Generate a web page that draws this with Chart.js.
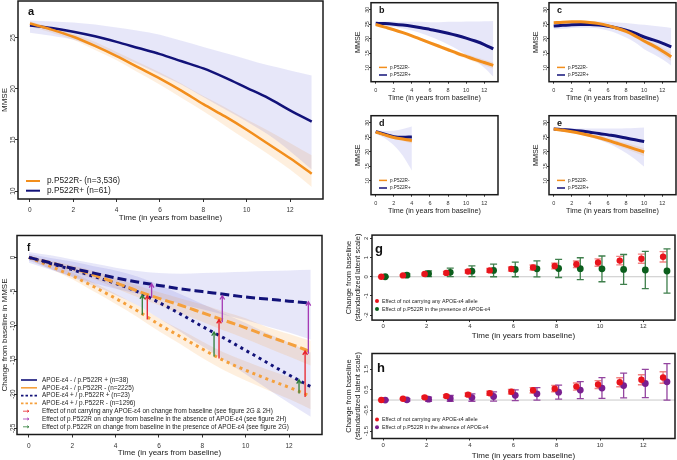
<!DOCTYPE html>
<html>
<head>
<meta charset="utf-8">
<script src="https://cdn.jsdelivr.net/npm/chart.js@4/dist/chart.umd.min.js"></script>
<style>
  html, body { margin: 0; padding: 0; background: #fff; width: 677px; height: 460px; overflow: hidden; position: relative; }
  canvas { position: absolute; }
</style>
</head>
<body>
<script>
// ---- data ----
const years = [0, 1, 2, 3, 4, 5, 6, 7, 8, 9, 10, 11, 12, 13];
const xTicks = [0, 2, 4, 6, 8, 10, 12];
const mmseTicks = [10, 15, 20, 25];
const mmseTicksSmall = [10, 15, 20, 25, 30];
const fTicks = [-25, -20, -15, -10, -5, 0];
const gTicks = [-2, -1, 0, 1, 2];
const hTicks = [-1.5, -0.5, 0.5, 1.5];

const groupNames = ['p.P522R-', 'p.P522R+'];
const aNames = ['p.P522R- (n=3,536)', 'p.P522R+ (n=61)'];
const fNames = [
  'APOE-ε4 - / p.P522R + (n=38)',
  'APOE-ε4 - / p.P522R - (n=2225)',
  'APOE-ε4 + / p.P522R + (n=23)',
  'APOE-ε4 + / p.P522R - (n=1296)',
  'Effect of not carrying any APOE-ε4 on change from baseline (see figure 2G & 2H)',
  'Effect of p.P522R on change from baseline in the absence of APOE-ε4 (see figure 2H)',
  'Effect of p.P522R on change from baseline in the presence of APOE-ε4 (see figure 2G)'
];
const gNames = ['Effect of not carrying any APOE-ε4 allele', 'Effect of p.P522R in the presence of APOE-ε4'];
const hNames = ['Effect of not carrying any APOE-ε4 allele', 'Effect of p.P522R in the absence of APOE-ε4'];

// a: all
const aMinus   = [26.4, 25.8, 25.1, 24.2, 23.2, 22.1, 21.0, 19.8, 18.5, 17.3, 16.0, 14.6, 13.2, 11.7];
const aMinusUp = [26.6, 26.0, 25.4, 24.6, 23.6, 22.6, 21.6, 20.5, 19.3, 18.2, 17.0, 15.9, 14.7, 13.5];
const aMinusLo = [26.1, 25.5, 24.8, 23.8, 22.8, 21.6, 20.4, 19.1, 17.8, 16.4, 15.0, 13.6, 12.1, 10.4];
const aPlus    = [26.2, 25.95, 25.6, 25.15, 24.6, 24.0, 23.4, 22.7, 22.0, 21.1, 20.1, 19.1, 17.9, 16.8];
const aPlusUp  = [26.7, 26.6, 26.5, 26.3, 26.0, 25.7, 25.3, 24.7, 24.1, 23.5, 22.9, 22.3, 21.8, 21.3];
const aPlusLo  = [25.5, 25.2, 24.8, 24.1, 23.3, 22.4, 21.4, 20.4, 19.2, 18.0, 16.8, 15.5, 13.9, 12.1];

// b
const bMinus   = [24.9, 24.0, 23.1, 22.1, 21.0, 19.8, 18.6, 17.4, 16.2, 15.0, 13.9, 12.8, 11.8, 10.8];
const bMinusUp = [25.2, 24.3, 23.5, 22.5, 21.4, 20.3, 19.1, 18.0, 16.8, 15.7, 14.7, 13.7, 12.8, 11.9];
const bMinusLo = [24.6, 23.7, 22.8, 21.7, 20.6, 19.3, 18.1, 16.8, 15.6, 14.3, 13.1, 11.9, 10.8, 9.7];
const bPlus    = [25.3, 25.2, 25.0, 24.7, 24.3, 23.8, 23.2, 22.6, 21.9, 21.1, 20.2, 19.2, 18.0, 16.5];
const bPlusUp  = [25.9, 25.9, 25.9, 25.8, 25.8, 25.8, 25.7, 25.7, 25.8, 25.8, 25.9, 25.9, 26.0, 26.1];
const bPlusLo  = [24.7, 24.4, 24.0, 23.5, 22.8, 21.9, 20.8, 19.5, 18.0, 16.4, 14.5, 12.4, 10.0, 6.9];

// c
const cMinus   = [25.5, 25.7, 25.8, 25.8, 25.6, 25.2, 24.5, 23.6, 22.5, 21.0, 19.2, 17.6, 15.8, 13.8];
const cMinusUp = [25.8, 26.0, 26.1, 26.1, 25.9, 25.6, 24.9, 24.1, 23.1, 21.7, 20.0, 18.6, 17.0, 15.3];
const cMinusLo = [25.2, 25.4, 25.5, 25.5, 25.3, 24.8, 24.1, 23.1, 21.9, 20.3, 18.4, 16.6, 14.6, 12.3];
const cPlus    = [24.4, 24.6, 24.8, 24.9, 24.9, 24.7, 24.3, 23.7, 22.9, 21.9, 20.6, 19.6, 18.5, 17.2];
const cPlusUp  = [25.6, 25.8, 25.9, 26.0, 26.0, 25.9, 25.8, 25.6, 25.4, 25.1, 24.8, 24.5, 24.1, 23.7];
const cPlusLo  = [23.2, 23.4, 23.7, 23.8, 23.8, 23.5, 22.8, 21.8, 20.4, 18.7, 16.4, 14.7, 12.9, 10.7];

// d (years 0-4)
const dMinus   = [26.8, 25.8, 24.9, 24.4, 23.8];
const dMinusUp = [27.1, 26.2, 25.4, 25.1, 24.8];
const dMinusLo = [26.5, 25.4, 24.4, 23.7, 22.8];
const dPlus    = [26.9, 26.0, 25.2, 25.0, 25.1];
const dPlusUp  = [27.4, 27.1, 27.2, 27.8, 28.7];
const dPlusLo  = [26.3, 24.6, 22.2, 18.6, 13.5];

// e (years 0-10)
const eMinus   = [27.8, 27.4, 26.9, 26.3, 25.6, 24.8, 23.9, 22.9, 21.9, 20.9, 19.9];
const eMinusUp = [28.0, 27.7, 27.3, 26.8, 26.2, 25.5, 24.7, 23.8, 23.0, 22.1, 21.2];
const eMinusLo = [27.6, 27.1, 26.5, 25.8, 25.0, 24.1, 23.1, 22.0, 20.9, 19.7, 18.4];
const ePlus    = [27.8, 27.6, 27.4, 27.1, 26.7, 26.3, 25.8, 25.3, 24.7, 24.1, 23.5];
const ePlusUp  = [28.3, 28.2, 28.1, 28.0, 28.0, 28.0, 28.0, 28.0, 28.1, 28.2, 28.3];
const ePlusLo  = [27.3, 27.0, 26.6, 25.9, 25.1, 24.1, 22.9, 21.4, 19.6, 17.4, 14.8];

// f: change from baseline
const fNegPos   = [0, -0.8, -1.6, -2.3, -3.0, -3.6, -4.1, -4.6, -5.0, -5.4, -5.8, -6.1, -6.4, -6.7];
const fNegPosUp = [0.8, 0.3, -0.3, -0.9, -1.5, -2.0, -2.3, -2.4, -2.3, -2.2, -2.1, -2.0, -1.9, -1.8];
const fNegPosLo = [-0.8, -1.8, -2.8, -3.8, -4.6, -5.3, -6.0, -6.8, -7.6, -8.4, -9.2, -10.1, -11.0, -12.0];
const fNegNeg   = [0, -0.8, -1.6, -2.6, -3.7, -4.9, -6.0, -7.0, -8.1, -9.2, -10.3, -11.5, -12.6, -13.8];
const fNegNegUp = [0.2, -0.5, -1.2, -2.0, -3.0, -4.1, -5.1, -6.0, -6.9, -7.9, -8.9, -10.2, -11.2, -12.2];
const fNegNegLo = [-0.2, -1.1, -2.1, -3.2, -4.5, -5.8, -7.0, -8.2, -9.4, -10.7, -11.9, -13.2, -14.5, -15.8];
const fPosPos   = [0, -0.9, -1.8, -2.8, -3.8, -5.0, -6.6, -8.3, -10.1, -11.8, -13.6, -15.4, -17.2, -18.9];
const fPosPosUp = [0.5, -0.1, -0.6, -1.3, -1.9, -2.8, -4.0, -5.4, -6.8, -8.2, -9.6, -11.1, -12.5, -13.9];
const fPosPosLo = [-0.5, -1.7, -2.9, -4.2, -5.5, -7.0, -8.9, -10.9, -13.0, -15.0, -17.1, -19.2, -21.3, -23.3];
const fPosNeg   = [0, -1.3, -2.7, -4.3, -6.0, -7.8, -9.8, -11.6, -13.4, -15.1, -16.5, -17.8, -19.0, -20.3];
const fPosNegUp = [0.3, -0.9, -2.2, -3.7, -5.3, -7.0, -8.9, -10.6, -12.3, -13.9, -15.2, -16.4, -17.5, -18.7];
const fPosNegLo = [-0.3, -1.7, -3.2, -5.0, -6.8, -8.7, -10.8, -12.7, -14.7, -16.5, -18.0, -19.4, -20.7, -22.2];
// arrows: time, from, to
const redArrowX = [5.46, 8.77, 12.74], redFrom = [-9.1, -14.8, -20.4], redTo = [-5.6, -9.1, -13.7];
const purpleArrowX = [5.66, 8.92, 12.89], purpleFrom = [-5.9, -9.5, -14.1], purpleTo = [-3.85, -5.6, -6.5];
const greenArrowX = [5.23, 8.54, 12.46], greenFrom = [-8.4, -14.5, -19.9], greenTo = [-5.5, -10.9, -17.9];

// g, h: standardized latent scale effects (estimate, half CI)
const gRed      = [0, 0.07, 0.14, 0.2, 0.27, 0.33, 0.4, 0.48, 0.56, 0.65, 0.74, 0.84, 0.94, 1.04];
const gRedErr   = [0.02, 0.03, 0.05, 0.07, 0.08, 0.1, 0.11, 0.13, 0.15, 0.17, 0.19, 0.22, 0.24, 0.27];
const gGreen    = [0, 0.08, 0.16, 0.23, 0.29, 0.33, 0.38, 0.41, 0.43, 0.42, 0.41, 0.38, 0.35, 0.3];
const gGreenErr = [0.03, 0.07, 0.15, 0.22, 0.28, 0.33, 0.38, 0.42, 0.47, 0.57, 0.67, 0.78, 0.97, 1.15];
const hRed      = [0, 0.06, 0.13, 0.19, 0.26, 0.33, 0.4, 0.47, 0.55, 0.65, 0.75, 0.86, 0.98, 1.09];
const hRedErr   = [0.02, 0.03, 0.05, 0.07, 0.08, 0.1, 0.11, 0.13, 0.15, 0.17, 0.19, 0.22, 0.24, 0.28];
const hPurple   = [0, 0.01, 0.04, 0.08, 0.12, 0.17, 0.23, 0.3, 0.38, 0.48, 0.58, 0.7, 0.8, 0.88];
const hPurpleErr= [0.03, 0.06, 0.1, 0.14, 0.18, 0.22, 0.26, 0.3, 0.34, 0.41, 0.5, 0.6, 0.68, 0.88];

// ---- style ----
const FONT = "'Liberation Sans', Arial, sans-serif";
const NAVY = '#121279', ORANGE = '#f28e1c', F_ORANGE = '#f5a03c';
const LAV = 'rgba(70,70,210,0.13)', PEACH = 'rgba(250,160,60,0.17)';
const RED = '#e8141c', RED_ERR = 'rgba(236,90,90,0.75)';
const GREEN = '#0b5e1c', GREEN_ERR = '#3f7f4c';
const PURPLE = '#7a1f8f', PURPLE_ERR = '#93449f';
const A_RED = '#e8232b', A_PURPLE = '#a53ab5', A_GREEN = '#2f7d3a';
const DODGE = 0.09;
Chart.defaults.font.family = FONT;

const pts = (ys, dx) => ys.map((y, i) => ({x: years[i] + (dx || 0), y}));
const line = (ys, color, width, dash) => ({
  data: pts(ys), borderColor: color, borderWidth: width, borderDash: dash || [],
  fill: false, pointRadius: 0, cubicInterpolationMode: 'monotone'
});
const band = (up, lo, color) => [
  {data: pts(up), borderColor: 'rgba(0,0,0,0)', borderWidth: 0, pointRadius: 0, fill: false, cubicInterpolationMode: 'monotone'},
  {data: pts(lo), borderColor: 'rgba(0,0,0,0)', borderWidth: 0, pointRadius: 0, fill: '-1', backgroundColor: color, cubicInterpolationMode: 'monotone'}
];
const dots = (ys, dx, color, r) => ({
  data: pts(ys, dx), showLine: false, pointRadius: r, pointBackgroundColor: color, pointBorderWidth: 0
});

// extra drawing per canvas (box, letter, legends, error bars, arrows)
const deco = {};

function drawArrow(ctx, x0, y0, x1, y1, head) {
  const ang = Math.atan2(y1 - y0, x1 - x0);
  ctx.beginPath();
  ctx.moveTo(x0, y0); ctx.lineTo(x1, y1);
  ctx.moveTo(x1 - head * Math.cos(ang - 0.55), y1 - head * Math.sin(ang - 0.55));
  ctx.lineTo(x1, y1);
  ctx.lineTo(x1 - head * Math.cos(ang + 0.55), y1 - head * Math.sin(ang + 0.55));
  ctx.stroke();
}

Chart.register({
  id: 'deco',
  beforeDatasetsDraw(chart) {
    const d = deco[chart.canvas.id];
    const {ctx, chartArea: ca, scales: {x, y}} = chart;
    ctx.save();
    if (d.zero) {
      const py = y.getPixelForValue(0);
      ctx.strokeStyle = '#c9c9c9'; ctx.lineWidth = 1;
      ctx.beginPath(); ctx.moveTo(ca.left, py); ctx.lineTo(ca.right, py); ctx.stroke();
    }
    (d.errorBars || []).forEach(eb => {
      ctx.strokeStyle = eb.color; ctx.lineWidth = eb.w;
      eb.ys.forEach((v, i) => {
        const px = x.getPixelForValue(years[i] + eb.dx);
        const p1 = y.getPixelForValue(v - eb.err[i]), p2 = y.getPixelForValue(v + eb.err[i]);
        ctx.beginPath();
        ctx.moveTo(px, p1); ctx.lineTo(px, p2);
        ctx.moveTo(px - eb.cap, p1); ctx.lineTo(px + eb.cap, p1);
        ctx.moveTo(px - eb.cap, p2); ctx.lineTo(px + eb.cap, p2);
        ctx.stroke();
      });
    });
    ctx.restore();
  },
  afterDatasetsDraw(chart) {
    const d = deco[chart.canvas.id];
    const {ctx, scales: {x, y}} = chart;
    ctx.save();
    (d.arrows || []).forEach(a => {
      ctx.strokeStyle = a.color; ctx.lineWidth = 1.3;
      a.xs.forEach((t, i) => {
        const px = x.getPixelForValue(t);
        drawArrow(ctx, px, y.getPixelForValue(a.from[i]), px, y.getPixelForValue(a.to[i]), 4.5);
      });
    });
    ctx.restore();
  },
  afterDraw(chart) {
    const d = deco[chart.canvas.id];
    const {ctx, chartArea: ca} = chart;
    ctx.save();
    ctx.strokeStyle = '#1a1a1a'; ctx.lineWidth = 1.5;
    ctx.strokeRect(ca.left, ca.top, ca.right - ca.left, ca.bottom - ca.top);
    const L = d.letter;
    ctx.fillStyle = '#111'; ctx.font = `bold ${L.s}px ${FONT}`; ctx.textBaseline = 'alphabetic';
    ctx.fillText(L.t, L.x - d.ox, L.y - d.oy);
    const g = d.legend;
    if (g) {
      ctx.font = `${g.s}px ${FONT}`; ctx.textBaseline = 'middle';
      g.items.forEach((it, i) => {
        const yy = g.y + i * g.dy - d.oy, x0 = g.x - d.ox;
        ctx.strokeStyle = it.color; ctx.fillStyle = it.color;
        if (it.kind === 'line') {
          ctx.lineWidth = it.w; ctx.setLineDash(it.dash || []);
          ctx.beginPath(); ctx.moveTo(x0, yy); ctx.lineTo(x0 + g.len, yy); ctx.stroke();
          ctx.setLineDash([]);
        } else if (it.kind === 'dot') {
          ctx.beginPath(); ctx.arc(x0, yy, it.r, 0, Math.PI * 2); ctx.fill();
        } else {
          ctx.lineWidth = 0.8; drawArrow(ctx, x0 + 2, yy, x0 + 8, yy, 2.2);
        }
        ctx.fillStyle = '#222';
        ctx.fillText(g.names[i], g.tx - d.ox, yy);
      });
    }
    ctx.restore();
  }
});

function panel(id, box, pad, spec) {
  const [bx, by, bw, bh] = box, [pl, pt, pr, pb] = pad;
  const w = Math.ceil(bw + pl + pr), h = Math.ceil(bh + pt + pb);
  const top = h - pb - bh;
  const cv = document.createElement('canvas');
  cv.id = id; cv.width = w; cv.height = h;
  Object.assign(cv.style, {left: (bx - pl) + 'px', top: (by - top) + 'px', width: w + 'px', height: h + 'px'});
  document.body.appendChild(cv);
  deco[id] = Object.assign({ox: bx - pl, oy: by - top}, spec.deco);
  const f = s => ({family: FONT, size: s});
  new Chart(cv, {
    type: 'line',
    data: {datasets: spec.datasets},
    options: {
      responsive: false, animation: false, events: [],
      layout: {padding: {left: 0, top: top, right: w - pl - bw, bottom: 0}},
      plugins: {legend: {display: false}, tooltip: {enabled: false}},
      scales: {
        x: {
          type: 'linear', min: spec.x.min, max: spec.x.max,
          afterBuildTicks: s => { s.ticks = xTicks.map(v => ({value: v})); },
          afterFit: s => { s.height = pb; },
          border: {display: false},
          grid: {drawOnChartArea: false, tickLength: spec.x.tl, tickColor: '#333', lineWidth: 1},
          ticks: {autoSkip: false, maxRotation: 0, padding: spec.x.pad, font: f(spec.x.fs), color: '#333', callback: v => String(v)},
          title: {display: true, text: 'Time (in years from baseline)', padding: 0, font: f(spec.x.ts), color: '#222'}
        },
        y: {
          type: 'linear', min: spec.y.min, max: spec.y.max,
          afterBuildTicks: s => { s.ticks = spec.y.ticks.map(v => ({value: v})); },
          afterFit: s => { s.width = pl; },
          border: {display: false},
          grid: {drawOnChartArea: false, tickLength: spec.y.tl, tickColor: '#333', lineWidth: 1},
          ticks: {autoSkip: false, minRotation: 90, maxRotation: 90, crossAlign: 'center', padding: spec.y.pad,
                  font: f(spec.y.fs), color: '#333', callback: v => String(v)},
          title: {display: true, text: spec.y.title, padding: {top: spec.y.tpad, bottom: 0}, font: f(spec.y.ts), color: '#222'}
        }
      }
    }
  });
}

// ---- a ----
panel('a', [18, 1, 305, 198], [18, 10, 6, 24], {
  x: {min: -0.55, max: 13.52, fs: 6.5, tl: 3, pad: 4.5, ts: 8},
  y: {min: 9.22, max: 28.6, ticks: mmseTicks, fs: 6.5, tl: 3, pad: -2, ts: 8, tpad: 0, title: 'MMSE'},
  datasets: [line(aMinus, ORANGE, 2.5), line(aPlus, NAVY, 2.5), ...band(aPlusUp, aPlusLo, LAV), ...band(aMinusUp, aMinusLo, PEACH)],
  deco: {
    letter: {t: 'a', x: 28, y: 15, s: 11},
    legend: {x: 26, len: 14, tx: 47, y: 181, dy: 9.7, s: 8.3, names: aNames,
             items: [{kind: 'line', color: ORANGE, w: 2}, {kind: 'line', color: NAVY, w: 2}]}
  }
});

// ---- b-e ----
function small(id, box, letter, minus, mUp, mLo, plus, pUp, pLo) {
  panel(id, box, [18, 8, 4, 20.3], {
    x: {min: -0.52, max: 13.52, fs: 5.5, tl: 2, pad: 3, ts: 7.2},
    y: {min: 5.2, max: 32.4, ticks: mmseTicksSmall, fs: 5.5, tl: 2, pad: -2, ts: 7.2, tpad: 0.5, title: 'MMSE'},
    datasets: [line(minus, ORANGE, 3), line(plus, NAVY, 3), ...band(pUp, pLo, LAV), ...band(mUp, mLo, PEACH)],
    deco: {
      letter: {t: letter, x: box[0] + 8, y: box[1] + 10.5, s: 9},
      legend: {x: box[0] + 8, len: 8, tx: box[0] + 19, y: box[1] + 64.7, dy: 7.6, s: 4.6, names: groupNames,
               items: [{kind: 'line', color: ORANGE, w: 1.5}, {kind: 'line', color: NAVY, w: 1.5}]}
    }
  });
}
small('b', [371, 3, 127, 79], 'b', bMinus, bMinusUp, bMinusLo, bPlus, bPlusUp, bPlusLo);
small('c', [549, 3, 127, 79], 'c', cMinus, cMinusUp, cMinusLo, cPlus, cPlusUp, cPlusLo);
small('d', [371, 116, 127, 79], 'd', dMinus, dMinusUp, dMinusLo, dPlus, dPlusUp, dPlusLo);
small('e', [549, 116, 127, 79], 'e', eMinus, eMinusUp, eMinusLo, ePlus, ePlusUp, ePlusLo);

// ---- f ----
panel('f', [17, 235, 305, 199], [17, 8, 6, 23.5], {
  x: {min: -0.55, max: 13.52, fs: 6.5, tl: 3, pad: 4.5, ts: 8},
  y: {min: -25.9, max: 3.2, ticks: fTicks, fs: 6.5, tl: 3, pad: -4, ts: 8, tpad: 0, title: 'Change from baseline in MMSE'},
  datasets: [
    line(fNegPos, NAVY, 3, [9, 4]), line(fNegNeg, F_ORANGE, 3, [9, 4]),
    line(fPosPos, NAVY, 3, [3, 4]), line(fPosNeg, F_ORANGE, 3, [3, 4]),
    ...band(fNegPosUp, fNegPosLo, LAV), ...band(fNegNegUp, fNegNegLo, PEACH),
    ...band(fPosPosUp, fPosPosLo, LAV), ...band(fPosNegUp, fPosNegLo, PEACH)
  ],
  deco: {
    letter: {t: 'f', x: 27, y: 250, s: 10},
    arrows: [
      {xs: redArrowX, from: redFrom, to: redTo, color: A_RED},
      {xs: purpleArrowX, from: purpleFrom, to: purpleTo, color: A_PURPLE},
      {xs: greenArrowX, from: greenFrom, to: greenTo, color: A_GREEN}
    ],
    legend: {x: 21, len: 16, tx: 42, y: 379.5, dy: 7.8, s: 6.4, names: fNames,
      items: [
        {kind: 'line', color: NAVY, w: 1.6}, {kind: 'line', color: F_ORANGE, w: 1.6},
        {kind: 'line', color: NAVY, w: 1.6, dash: [2.5, 2]}, {kind: 'line', color: F_ORANGE, w: 1.6, dash: [2.5, 2]},
        {kind: 'arrow', color: A_RED}, {kind: 'arrow', color: A_PURPLE}, {kind: 'arrow', color: A_GREEN}
      ]}
  }
});

// ---- g ----
panel('g', [372, 235, 303, 85], [27, 8, 4, 20.9], {
  x: {min: -0.52, max: 13.46, fs: 6, tl: 2, pad: 1, ts: 8},
  y: {min: -2.26, max: 2.17, ticks: gTicks, fs: 6, tl: 2, pad: 0.8, ts: 7.5, tpad: -0.5,
      title: ['Change from baseline', '(standardized latent scale)']},
  datasets: [dots(gRed, -DODGE, RED, 3.2), dots(gGreen, DODGE, GREEN, 3.4)],
  deco: {
    zero: true,
    letter: {t: 'g', x: 375, y: 253, s: 13},
    errorBars: [
      {ys: gRed, err: gRedErr, dx: -DODGE, color: RED_ERR, w: 1.4, cap: 3.5},
      {ys: gGreen, err: gGreenErr, dx: DODGE, color: GREEN_ERR, w: 1.3, cap: 3.5}
    ],
    legend: {x: 377, len: 0, tx: 382, y: 301, dy: 8, s: 5.3, names: gNames,
             items: [{kind: 'dot', color: RED, r: 2}, {kind: 'dot', color: GREEN, r: 2}]}
  }
});

// ---- h ----
panel('h', [372, 353, 303, 85], [27, 8, 4, 22.5], {
  x: {min: -0.52, max: 13.46, fs: 6, tl: 2, pad: 1.4, ts: 8},
  y: {min: -1.86, max: 2.25, ticks: hTicks, fs: 6, tl: 2, pad: -1.7, ts: 7.5, tpad: -0.5,
      title: ['Change from baseline', '(standardized latent scale)']},
  datasets: [dots(hRed, -DODGE, RED, 3.2), dots(hPurple, DODGE, PURPLE, 3.4)],
  deco: {
    zero: true,
    letter: {t: 'h', x: 377, y: 371, s: 13},
    errorBars: [
      {ys: hRed, err: hRedErr, dx: -DODGE, color: RED_ERR, w: 1.4, cap: 3.5},
      {ys: hPurple, err: hPurpleErr, dx: DODGE, color: PURPLE_ERR, w: 1.3, cap: 3.5}
    ],
    legend: {x: 377, len: 0, tx: 382, y: 419, dy: 7.7, s: 5.3, names: hNames,
             items: [{kind: 'dot', color: RED, r: 2}, {kind: 'dot', color: PURPLE, r: 2}]}
  }
});
</script>
</body>
</html>
